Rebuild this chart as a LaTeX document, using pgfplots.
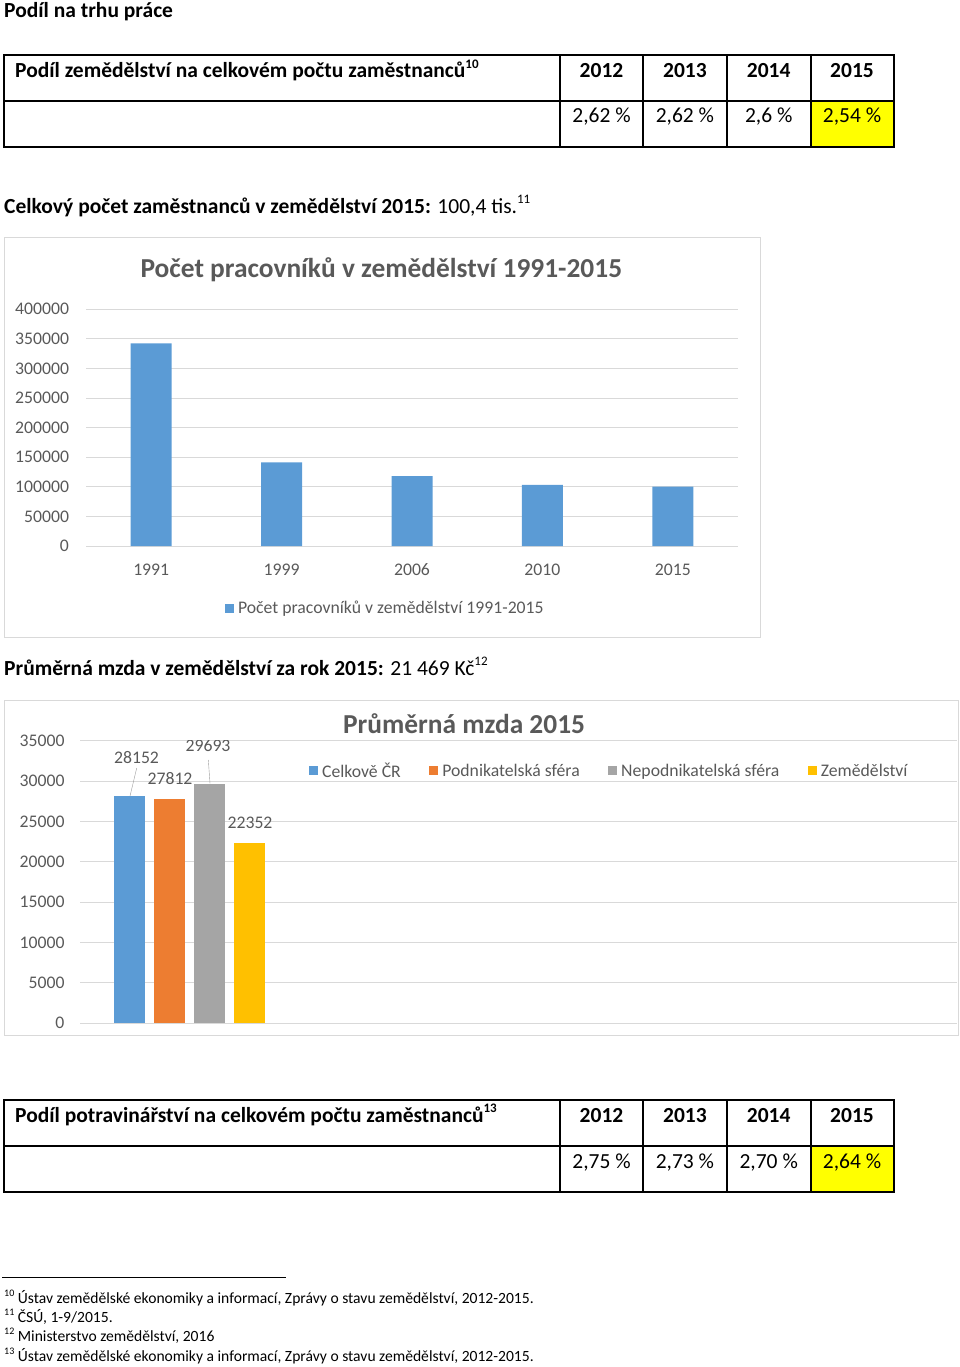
\documentclass[border=0pt]{standalone}
\usepackage{fontspec}
\setmainfont{Carlito}
\usepackage{pgfplots}
\pgfplotsset{compat=1.18}
\definecolor{barblue}{HTML}{5B9BD5}
\definecolor{barorange}{HTML}{ED7D31}
\definecolor{bargray}{HTML}{A5A5A5}
\definecolor{bargold}{HTML}{FFC000}
\definecolor{gridgray}{HTML}{D9D9D9}
\definecolor{labelgray}{HTML}{595959}
\definecolor{cellyellow}{HTML}{FFFF00}
\newcommand\bodyfont{\fontsize{21.5}{25}\selectfont}
\newcommand\chartfont{\fontsize{17.7}{20}\selectfont}
\newcommand\titlefont{\fontsize{27.4}{32}\selectfont\bfseries}
\newcommand\notefont{\fontsize{15.6}{18}\selectfont}
\newcommand\fnsup[1]{\raisebox{0.42em}{\fontsize{13}{14}\selectfont #1}}
\newcommand\nsup[1]{\raisebox{0.4em}{\fontsize{10}{11}\selectfont #1}}
\begin{document}
\begin{tikzpicture}
\useasboundingbox (0pt,0pt) rectangle (960pt,-1367pt);
\begin{scope}[x=1pt,y=1pt]
% heading
\node[anchor=base west,inner sep=0] at (4,-17.5) {\bodyfont\bfseries Podíl na trhu práce};
% table 1
\fill[cellyellow] (810.7,-101) rectangle (893.5,-147);
\draw[line width=2pt] (4,-55.5) rectangle (893.5,-147);
\draw[line width=2pt] (4,-101) -- (893.5,-101);
\foreach \xx in {560,643,726.7,810.7} \draw[line width=2pt] (\xx,-55.5) -- (\xx,-147);
\node[anchor=base west,inner sep=0] at (15,-77.5) {\bodyfont\bfseries Podíl zemědělství na celkovém počtu zaměstnanců\fnsup{10}};
\foreach \xx/\yy/\vv in {601.5/2012/{2,62 \%},684.9/2013/{2,62 \%},768.7/2014/{2,6 \%},852/2015/{2,54 \%}}{
  \node[anchor=base,inner sep=0] at (\xx,-77.5) {\bodyfont\bfseries \yy};
  \node[anchor=base,inner sep=0] at (\xx,-123) {\bodyfont \vv};
}
\node[anchor=base west,inner sep=0] at (4,-213) {\bodyfont\textbf{Celkový počet zaměstnanců v zemědělství 2015:} 100,4 tis.\fnsup{11}};
% chart frames
\draw[gridgray,line width=1pt] (4,-237) rectangle (760,-637);
\node[anchor=base west,inner sep=0] at (4,-675) {\bodyfont\textbf{Průměrná mzda v zemědělství za rok 2015:} 21 469 Kč\fnsup{12}};
\draw[gridgray,line width=1pt] (4,-700) rectangle (958,-1035);
% table 2
\fill[cellyellow] (810.7,-1145.7) rectangle (893.5,-1191.7);
\draw[line width=2pt] (4,-1100) rectangle (893.5,-1191.7);
\draw[line width=2pt] (4,-1145.7) -- (893.5,-1145.7);
\foreach \xx in {560,643,726.7,810.7} \draw[line width=2pt] (\xx,-1100) -- (\xx,-1191.7);
\node[anchor=base west,inner sep=0] at (15,-1122) {\bodyfont\bfseries Podíl potravinářství na celkovém počtu zaměstnanců\fnsup{13}};
\foreach \xx/\yy/\vv in {601.5/2012/{2,75 \%},684.9/2013/{2,73 \%},768.7/2014/{2,70 \%},852/2015/{2,64 \%}}{
  \node[anchor=base,inner sep=0] at (\xx,-1122) {\bodyfont\bfseries \yy};
  \node[anchor=base,inner sep=0] at (\xx,-1168) {\bodyfont \vv};
}
% footnotes
\draw[line width=1.5pt] (2,-1277.5) -- (286,-1277.5);
\node[anchor=base west,inner sep=0] at (4,-1303) {\notefont\nsup{10} Ústav zemědělské ekonomiky a informací, Zprávy o stavu zemědělství, 2012-2015.};
\node[anchor=base west,inner sep=0] at (4,-1322) {\notefont\nsup{11} ČSÚ, 1-9/2015.};
\node[anchor=base west,inner sep=0] at (4,-1341) {\notefont\nsup{12} Ministerstvo zemědělství, 2016};
\node[anchor=base west,inner sep=0] at (4,-1361) {\notefont\nsup{13} Ústav zemědělské ekonomiky a informací, Zprávy o stavu zemědělství, 2012-2015.};
\end{scope}

% chart 1
\begin{axis}[
  at={(86pt,-546pt)}, anchor=south west,
  scale only axis, width=652pt, height=236.7pt,
  xmin=-0.5, xmax=4.5, ymin=0, ymax=400000,
  ytick={0,50000,...,400000},
  xtick={0,1,2,3,4}, xticklabels={1991,1999,2006,2010,2015},
  scaled y ticks=false,
  /pgf/number format/fixed,
  /pgf/number format/1000 sep={},
  /pgf/number format/assume math mode=true,
  axis line style={draw=none},
  ymajorgrids, grid style={draw=gridgray,line width=1pt},
  major tick length=0pt,
  tick label style={font=\chartfont, text=labelgray},
  yticklabel style={xshift=-13.5pt},
  xticklabel style={anchor=base, yshift=-29pt},
  title={Počet pracovníků v zemědělství 1991-2015},
  title style={at={(0.453,1.140)}, anchor=center, font=\titlefont, text=labelgray},
  legend style={at={(0.2084,-0.262)}, anchor=west, draw=none, font=\chartfont, text=labelgray, fill=none},
  legend image code/.code={\fill[#1] (0pt,-4.5pt) rectangle (9pt,4.5pt); \path (11pt,0pt);},
]
\addplot[ybar, bar width=41pt, fill=barblue, draw=none] coordinates {(0,342500) (1,141400) (2,118300) (3,103100) (4,100400)};
\addlegendentry{Počet pracovníků v zemědělství 1991-2015}
\end{axis}

% chart 2
\begin{axis}[
  at={(80pt,-1023.3pt)}, anchor=south west,
  scale only axis, width=877pt, height=282.6pt,
  xmin=-0.5, xmax=3.5, ymin=0, ymax=35000,
  ytick={0,5000,...,35000},
  xtick=\empty,
  scaled y ticks=false,
  /pgf/number format/fixed,
  /pgf/number format/1000 sep={},
  /pgf/number format/assume math mode=true,
  axis line style={draw=none},
  ymajorgrids, grid style={draw=gridgray,line width=1pt},
  major tick length=0pt,
  tick label style={font=\chartfont, text=labelgray},
  yticklabel style={xshift=-12pt},
  title={Průměrná mzda 2015},
  title style={at={(0.438,1.040)}, anchor=center, font=\titlefont, text=labelgray},
  legend columns=4,
  legend style={at={(0.2576,0.893)}, anchor=west, draw=none, fill=none, font=\chartfont, text=labelgray,
    /tikz/every even column/.append style={column sep=26.5pt}},
  legend image code/.code={\fill[#1] (0pt,-4.5pt) rectangle (9pt,4.5pt); \path (11pt,0pt);},
]
\addplot[ybar, bar width=31.4pt, bar shift=-60pt, fill=barblue, draw=none] coordinates {(0,28152)};
\addlegendentry{Celkově ČR}
\addplot[ybar, bar width=31.4pt, bar shift=-20pt, fill=barorange, draw=none] coordinates {(0,27812)};
\addlegendentry{Podnikatelská sféra}
\addplot[ybar, bar width=31.4pt, bar shift=20pt, fill=bargray, draw=none] coordinates {(0,29693)};
\addlegendentry{Nepodnikatelská sféra}
\addplot[ybar, bar width=31.4pt, bar shift=60pt, fill=bargold, draw=none] coordinates {(0,22352)};
\addlegendentry{Zemědělství}
\draw[labelgray!60] ([xshift=-52.9pt]axis cs:0,31620) -- ([xshift=-59.6pt]axis cs:0,28152);
\draw[labelgray!60] ([xshift=18.7pt]axis cs:0,32611) -- ([xshift=20.4pt]axis cs:0,29693);
\node[font=\chartfont, text=labelgray] at ([xshift=-53.1pt]axis cs:0,32940) {28152};
\node[font=\chartfont, text=labelgray] at ([xshift=-19.6pt]axis cs:0,30256) {27812};
\node[font=\chartfont, text=labelgray] at ([xshift=18.4pt]axis cs:0,34343) {29693};
\node[font=\chartfont, text=labelgray] at ([xshift=60.4pt]axis cs:0,24808) {22352};
\end{axis}
\end{tikzpicture}
\end{document}
